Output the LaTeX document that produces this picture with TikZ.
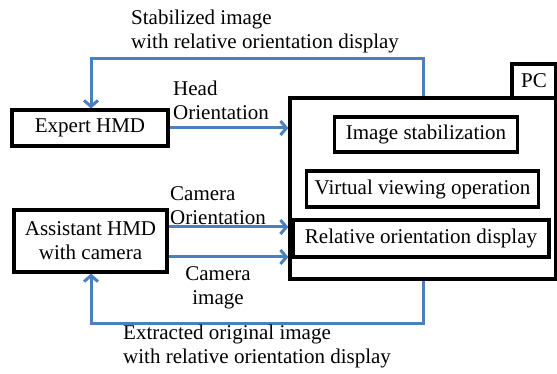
\documentclass[tikz,border=0pt]{standalone}
\usepackage{fontspec}
\setmainfont{Liberation Serif}
\usetikzlibrary{arrows.meta}
\definecolor{flowblue}{RGB}{76,128,189}
\begin{document}
\begin{tikzpicture}[x=1pt,y=-1pt,
  every node/.style={font=\fontsize{21}{24}\selectfont},
  blockbox/.style={draw=black,line width=3.2pt,inner sep=0pt,align=center},
  lbl/.style={inner sep=0pt,align=left,anchor=north west},
  flow/.style={draw=flowblue,line width=3pt,
    -{Straight Barb[length=6pt,width=14pt]}}]
\useasboundingbox (0,0) rectangle (557,374);

% PC with its three functions
\node[blockbox,minimum width=266pt,minimum height=181pt] (pc) at (423,188.5) {};
\node[blockbox,minimum width=44pt,minimum height=34pt] (pclabel) at (534,81) {PC};
\node[blockbox,minimum width=183pt,minimum height=35pt] (stab) at (426,134.5) {Image stabilization};
\node[blockbox,minimum width=232pt,minimum height=36pt] (virt) at (422.5,189) {Virtual viewing operation};
\node[blockbox,minimum width=256pt,minimum height=37pt] (rel) at (421,238.5) {Relative orientation display};

% head-mounted displays
\node[blockbox,minimum width=156pt,minimum height=36pt] (expert) at (90,128) {Expert HMD};
\node[blockbox,minimum width=153pt,minimum height=62pt] (assist) at (90.5,241) {Assistant HMD\\with camera};

% connectors
\coordinate (topR) at (423,59);
\coordinate (topL) at (91,59);
\coordinate (botR) at (423,323);
\coordinate (botL) at (91,323);
\draw[flow] (pc.north -| topR) -- (topR) -- (topL) -- (topL |- expert.north);
\draw[flow] (expert.east) -- (expert.east -| pc.west);
\coordinate (camO) at (0,227);
\coordinate (camI) at (0,257);
\draw[flow] (assist.east |- camO) -- (pc.west |- camO);
\draw[flow] (assist.east |- camI) -- (pc.west |- camI);
\draw[flow] (pc.south -| botR) -- (botR) -- (botL) -- (botL |- assist.south);

% connector labels
\node[lbl] (tstab) at (131,10) {Stabilized image\\with relative orientation display};
\node[lbl] (thead) at (173,81) {Head\\Orientation};
\node[lbl] (tcamo) at (170,186) {Camera\\Orientation};
\node[lbl,align=center,anchor=north] (tcami) at (218,266) {Camera\\image};
\node[lbl] (textr) at (123,325) {Extracted original image\\with relative orientation display};
\end{tikzpicture}
\end{document}
